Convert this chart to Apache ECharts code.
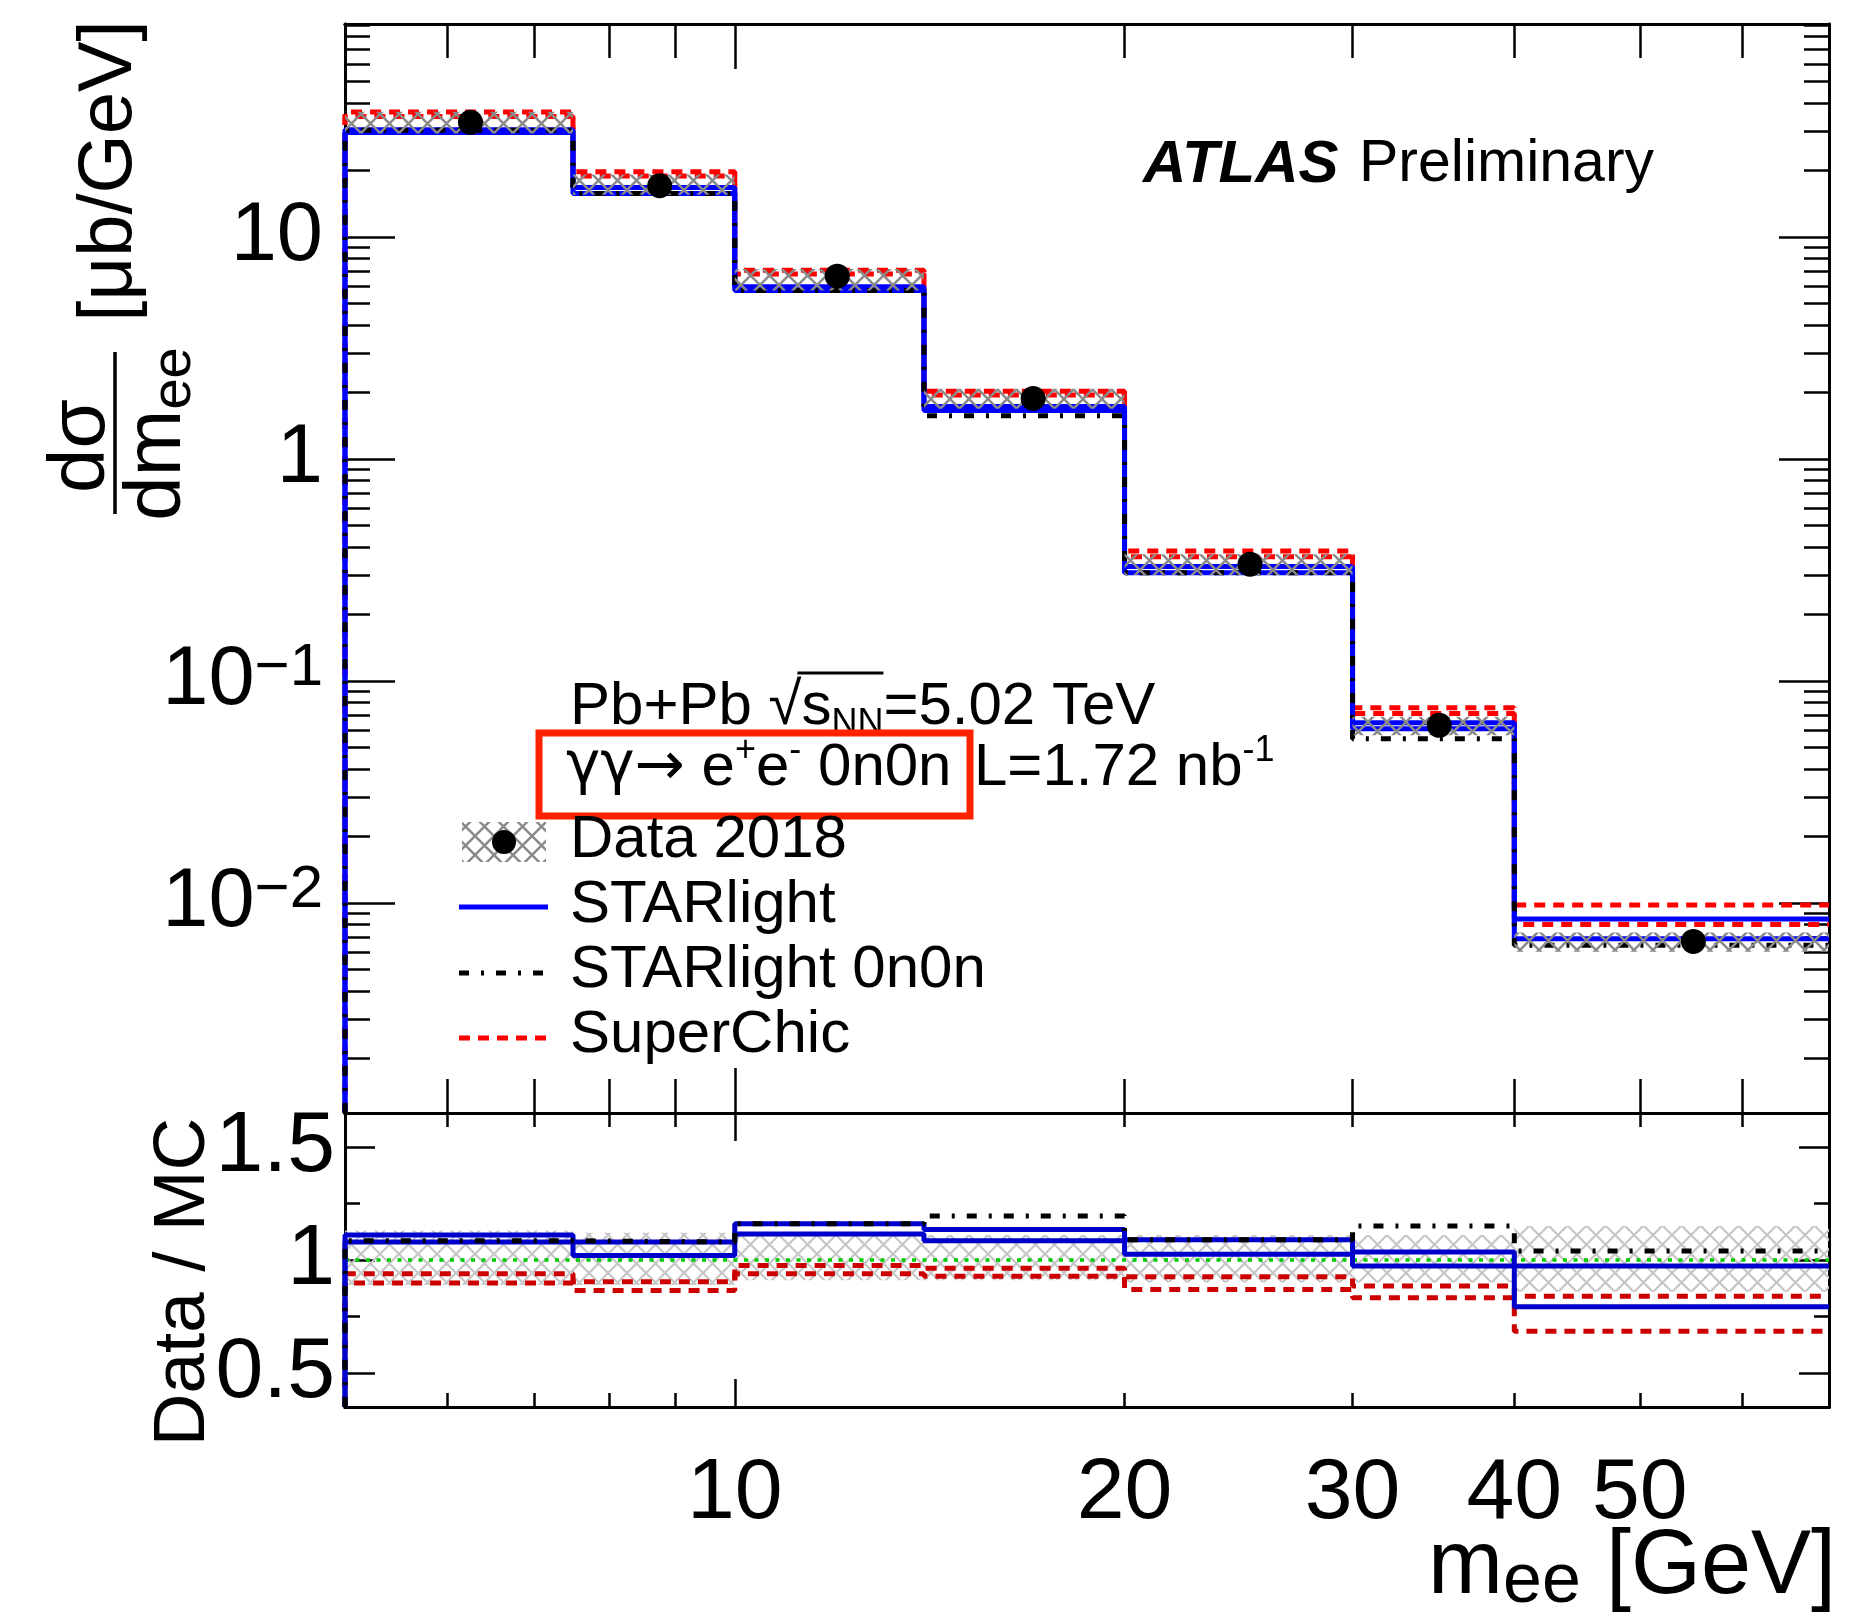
<!DOCTYPE html>
<html>
<head>
<meta charset="utf-8">
<script src="https://cdn.jsdelivr.net/npm/echarts@6/dist/echarts.min.js"></script>
<style>
  html, body { margin: 0; padding: 0; background: #fff; }
  #chart { width: 1850px; height: 1620px; }
</style>
</head>
<body>
<div id="chart"></div>
<script>
// Dielectron invariant-mass bins [GeV]
const binEdges = [5, 7.5, 10, 14, 20, 30, 40, 70];
const binCenters = [6.25, 8.75, 12, 17, 25, 35, 55];

// Measured dσ/dm_ee [μb/GeV] with its total uncertainty band
const dataValues   = [32.8, 17.0, 6.65, 1.87, 0.335, 0.0630, 0.00670];
const dataBandLow  = [29.2, 15.5, 5.74, 1.68, 0.300, 0.0569, 0.00602];
const dataBandHigh = [36.6, 19.1, 7.17, 2.07, 0.372, 0.0689, 0.00735];

// Predictions (upper and lower variations)
const starlightA    = [29.5, 15.7, 5.73, 1.65, 0.307, 0.0609, 0.00689];
const starlightB    = [30.4, 16.7, 5.96, 1.72, 0.327, 0.0647, 0.00845];
const starlight0n0n = [30.2, 15.7, 5.73, 1.565, 0.307, 0.0548, 0.00644];
const superchicA    = [34.9, 18.8, 6.81, 1.94, 0.362, 0.0712, 0.00798];
const superchicB    = [36.5, 19.65, 7.08, 2.015, 0.385, 0.0756, 0.00978];

// Data / MC
const ratioBandLow       = [0.89, 0.89, 0.91, 0.91, 0.90, 0.90, 0.86];
const ratioBandHigh      = [1.13, 1.12, 1.11, 1.11, 1.11, 1.11, 1.15];
const ratioStarlightA    = [1.11, 1.08, 1.16, 1.135, 1.09, 1.035, 0.973];
const ratioStarlightB    = [1.08, 1.02, 1.115, 1.085, 1.025, 0.973, 0.793];
const ratioStarlight0n0n = [1.085, 1.08, 1.16, 1.195, 1.09, 1.15, 1.04];
const ratioSuperchicA    = [0.939, 0.904, 0.976, 0.963, 0.926, 0.885, 0.840];
const ratioSuperchicB    = [0.898, 0.865, 0.939, 0.928, 0.870, 0.833, 0.685];
const ratioUnity = 1;

// Axis ranges and ticks
const xsecMin = 0.00113, xsecMax = 91;
const ratioMin = 0.35, ratioMax = 1.65;
const xMajorTicks = [10];
const xMinorTicks = [6, 7, 8, 9, 20, 30, 40, 50, 60];
const xTickLabels = [10, 20, 30, 40, 50];
const yMajorTicks = [0.01, 0.1, 1, 10];
const yMinorTicks = [0.002, 0.003, 0.004, 0.005, 0.006, 0.007, 0.008, 0.009,
                     0.02, 0.03, 0.04, 0.05, 0.06, 0.07, 0.08, 0.09,
                     0.2, 0.3, 0.4, 0.5, 0.6, 0.7, 0.8, 0.9,
                     2, 3, 4, 5, 6, 7, 8, 9,
                     20, 30, 40, 50, 60, 70, 80, 90];
const yTickLabels = [0.01, 0.1, 1, 10];
const ratioMajorTicks = [0.5, 1, 1.5];
const ratioMinorTicks = [0.75, 1.25];

const FONT = '"Liberation Sans", Arial, Helvetica, sans-serif';
const BLUE = '#0000ff', RED = '#ff0000', BLUE_R = '#0000cc', RED_R = '#cc0000';
const DASH = [11, 8];
const DASHDOT = [10, 12, 3, 12];
const LW = 5;

function hatchTile(color, size, lw) {
  const c = document.createElement('canvas');
  c.width = c.height = size;
  const g = c.getContext('2d');
  g.strokeStyle = color;
  g.lineWidth = lw;
  g.beginPath();
  g.moveTo(0, 0); g.lineTo(size, size);
  g.moveTo(size, 0); g.lineTo(0, size);
  g.stroke();
  return c;
}
const hatchDark = hatchTile('#8a8a8a', 19, 2.5);
const hatchLight = hatchTile('#c6c6c6', 19, 2.2);

// histogram outline: rise from the floor at the first edge, then step across the bins
function stepPoints(values, floor) {
  const pts = [[binEdges[0], floor]];
  values.forEach((v, i) => { pts.push([binEdges[i], v]); pts.push([binEdges[i + 1], v]); });
  return pts;
}
function histLine(name, xi, yi, values, floor, color, dash, z) {
  return {
    name, type: 'line', xAxisIndex: xi, yAxisIndex: yi, data: stepPoints(values, floor),
    symbol: 'none', showSymbol: false, silent: true, z,
    lineStyle: { color, width: LW, type: dash || 'solid', cap: 'butt', opacity: 1 }
  };
}
function band(xi, yi, lo, hi, tile, z) {
  return {
    type: 'custom', xAxisIndex: xi, yAxisIndex: yi, z, silent: true,
    data: lo.map((l, i) => [binEdges[i], binEdges[i + 1], l, hi[i]]),
    encode: { x: [0, 1], y: [2, 3] },
    renderItem: (params, api) => {
      const a = api.coord([api.value(0), api.value(3)]);
      const b = api.coord([api.value(1), api.value(2)]);
      return {
        type: 'rect',
        shape: { x: a[0], y: a[1], width: b[0] - a[0], height: b[1] - a[1] },
        style: { fill: { image: tile, repeat: 'repeat' } }
      };
    }
  };
}

function massAxis(gridIndex, position, ticks, len, labels) {
  return {
    type: 'log', logBase: 10, gridIndex, position,
    min: binEdges[0], max: binEdges[binEdges.length - 1],
    axisLine: { show: true, onZero: false, lineStyle: { color: '#000', width: 3 } },
    axisTick: { show: true, inside: true, length: len, customValues: ticks, lineStyle: { color: '#000', width: 2.5 } },
    axisLabel: labels ? {
      show: true, customValues: labels, margin: 44, color: '#000',
      fontFamily: FONT, fontSize: 86, formatter: v => String(Math.round(v))
    } : { show: false },
    splitLine: { show: false }, minorTick: { show: false }, axisPointer: { show: false }
  };
}
function powerLabel(v) {
  if (v >= 1) return '{b|' + String(Math.round(v)) + '}';
  return '{b|10}{s|\u2212' + String(-Math.round(Math.log10(v))) + '}';
}
function xsecAxis(position, ticks, len, labels) {
  return {
    type: 'log', logBase: 10, gridIndex: 0, position, min: xsecMin, max: xsecMax,
    axisLine: { show: true, onZero: false, lineStyle: { color: '#000', width: 3 } },
    axisTick: { show: true, inside: true, length: len, customValues: ticks, lineStyle: { color: '#000', width: 2.5 } },
    axisLabel: labels ? {
      show: true, customValues: labels, margin: 22, color: '#000', formatter: powerLabel,
      rich: {
        b: { fontFamily: FONT, fontSize: 83, lineHeight: 84, verticalAlign: 'bottom', color: '#000' },
        s: { fontFamily: FONT, fontSize: 60, lineHeight: 60, verticalAlign: 'top', padding: [0, 0, 42, 0], color: '#000' }
      }
    } : { show: false },
    splitLine: { show: false }, minorTick: { show: false }, axisPointer: { show: false }
  };
}
function ratioAxis(position, ticks, len, labels) {
  return {
    type: 'value', gridIndex: 1, position, min: ratioMin, max: ratioMax,
    axisLine: { show: true, onZero: false, lineStyle: { color: '#000', width: 3 } },
    axisTick: { show: true, inside: true, length: len, customValues: ticks, lineStyle: { color: '#000', width: 2.5 } },
    axisLabel: labels ? {
      show: true, customValues: labels, margin: 10, color: '#000',
      fontFamily: FONT, fontSize: 86, formatter: v => String(v)
    } : { show: false },
    splitLine: { show: false }, minorTick: { show: false }, axisPointer: { show: false }
  };
}

const chart = echarts.init(document.getElementById('chart'), null, { renderer: 'canvas' });

const mctx = document.createElement('canvas').getContext('2d');
function textWidth(str, px, family) {
  mctx.font = px + 'px ' + (family || FONT);
  return mctx.measureText(str).width;
}

// overline of the square root in the collision-energy label
const energyX = 570, energyY = 707;
const rootStart = energyX + textWidth('Pb+Pb ', 60);
const rootEnd = rootStart + textWidth('\u221A', 60);
const overlineEnd = rootEnd + textWidth('s', 60) + textWidth('NN', 36);

const graphics = [
  { type: 'text', x: 1143, y: 165, z: 20, style: { text: 'ATLAS', font: 'italic bold 60px ' + FONT, fill: '#000', align: 'left', verticalAlign: 'middle' } },
  { type: 'text', x: 1359, y: 165, z: 20, style: { text: 'Preliminary', font: '59px ' + FONT, fill: '#000', align: 'left', verticalAlign: 'middle' } },

  { type: 'text', x: energyX, y: energyY, z: 20, style: {
      text: '{n|Pb+Pb \u221A}{n|s}{sub|NN}{n|=5.02 TeV}', align: 'left', verticalAlign: 'middle',
      rich: {
        n: { font: '60px ' + FONT, lineHeight: 70, fill: '#000' },
        sub: { font: '36px ' + FONT, lineHeight: 34, verticalAlign: 'bottom', fill: '#000' }
      } } },
  { type: 'line', z: 20, shape: { x1: rootEnd - 4, y1: 673, x2: overlineEnd, y2: 673 }, style: { stroke: '#000', lineWidth: 3 } },

  { type: 'text', x: 566, y: 768, z: 20, style: {
      text: '{g|\u03B3\u03B3}{a|\u2192}{n| e}{sup|+}{n|e}{sup|-}{n| 0n0n}', align: 'left', verticalAlign: 'middle',
      rich: {
        n: { font: '60px ' + FONT, lineHeight: 70, fill: '#000' },
        g: { font: '58px "DejaVu Sans", ' + FONT, lineHeight: 70, fill: '#000' },
        a: { font: '60px "DejaVu Sans", ' + FONT, lineHeight: 70, fill: '#000' },
        sup: { font: '36px ' + FONT, lineHeight: 36, verticalAlign: 'top', fill: '#000' }
      } } },
  { type: 'text', x: 974, y: 768, z: 20, style: {
      text: '{n|L=1.72 nb}{sup|-1}', align: 'left', verticalAlign: 'middle',
      rich: {
        n: { font: '60px ' + FONT, lineHeight: 70, fill: '#000' },
        sup: { font: '36px ' + FONT, lineHeight: 36, verticalAlign: 'top', fill: '#000' }
      } } },
  { type: 'rect', z: 20, shape: { x: 539, y: 733, width: 431, height: 83 }, style: { fill: 'none', stroke: '#ff2200', lineWidth: 7 } },

  // legend
  { type: 'rect', z: 20, shape: { x: 462, y: 822, width: 84, height: 40 }, style: { fill: { image: hatchDark, repeat: 'repeat' } } },
  { type: 'circle', z: 21, shape: { cx: 504, cy: 842, r: 12 }, style: { fill: '#000' } },
  { type: 'text', x: 570, y: 840, z: 20, style: { text: 'Data 2018', font: '60px ' + FONT, fill: '#000', align: 'left', verticalAlign: 'middle' } },
  { type: 'line', z: 20, shape: { x1: 459, y1: 907, x2: 548, y2: 907 }, style: { stroke: BLUE, lineWidth: LW } },
  { type: 'text', x: 570, y: 905, z: 20, style: { text: 'STARlight', font: '60px ' + FONT, fill: '#000', align: 'left', verticalAlign: 'middle' } },
  { type: 'line', z: 20, shape: { x1: 459, y1: 973, x2: 548, y2: 973 }, style: { stroke: '#000', lineWidth: LW, lineDash: DASHDOT } },
  { type: 'text', x: 570, y: 970, z: 20, style: { text: 'STARlight 0n0n', font: '60px ' + FONT, fill: '#000', align: 'left', verticalAlign: 'middle' } },
  { type: 'line', z: 20, shape: { x1: 459, y1: 1038, x2: 548, y2: 1038 }, style: { stroke: RED, lineWidth: LW, lineDash: DASH } },
  { type: 'text', x: 570, y: 1035, z: 20, style: { text: 'SuperChic', font: '60px ' + FONT, fill: '#000', align: 'left', verticalAlign: 'middle' } },

  // y title of the cross-section pad: dσ/dm_ee [μb/GeV]
  { type: 'text', x: 110, y: 171, rotation: Math.PI / 2, z: 20, style: { text: '[\u03BCb/GeV]', font: '76px ' + FONT, fill: '#000', align: 'center', verticalAlign: 'middle' } },
  { type: 'text', x: 82, y: 446, rotation: Math.PI / 2, z: 20, style: { text: 'd\u03C3', font: '80px ' + FONT, fill: '#000', align: 'center', verticalAlign: 'middle' } },
  { type: 'line', z: 20, shape: { x1: 115, y1: 352, x2: 115, y2: 514 }, style: { stroke: '#000', lineWidth: 3.5 } },
  { type: 'text', x: 158, y: 434, rotation: Math.PI / 2, z: 20, style: {
      text: '{m|dm}{sub|ee}', align: 'center', verticalAlign: 'middle',
      rich: {
        m: { font: '80px ' + FONT, lineHeight: 90, fill: '#000' },
        sub: { font: '56px ' + FONT, lineHeight: 40, verticalAlign: 'bottom', fill: '#000' }
      } } },

  // y title of the ratio pad
  { type: 'text', x: 184, y: 1282, rotation: Math.PI / 2, z: 20, style: { text: 'Data / MC', font: '73px ' + FONT, fill: '#000', align: 'center', verticalAlign: 'middle' } },

  // x title
  { type: 'text', x: 1836, y: 1568, z: 20, style: {
      text: '{m|m}{sub|ee}{m| [GeV]}', align: 'right', verticalAlign: 'middle',
      rich: {
        m: { font: '90px ' + FONT, lineHeight: 100, fill: '#000' },
        sub: { font: '70px ' + FONT, lineHeight: 30, verticalAlign: 'bottom', fill: '#000' }
      } } }
];

const option = {
  animation: false,
  backgroundColor: '#fff',
  grid: [
    { left: 345, right: 21, top: 24, height: 1089, containLabel: false, outerBoundsMode: 'none' },
    { left: 345, right: 21, top: 1113, height: 294, containLabel: false, outerBoundsMode: 'none' }
  ],
  xAxis: [
    massAxis(0, 'bottom', xMajorTicks, 45, null),
    massAxis(0, 'bottom', xMinorTicks, 34, null),
    massAxis(0, 'top', xMajorTicks, 45, null),
    massAxis(0, 'top', xMinorTicks, 34, null),
    massAxis(1, 'bottom', xMajorTicks, 28, xTickLabels),
    massAxis(1, 'bottom', xMinorTicks, 14, null),
    massAxis(1, 'top', xMajorTicks, 28, null),
    massAxis(1, 'top', xMinorTicks, 14, null)
  ],
  yAxis: [
    xsecAxis('left', yMajorTicks, 50, yTickLabels),
    xsecAxis('left', yMinorTicks, 25, null),
    xsecAxis('right', yMajorTicks, 50, null),
    xsecAxis('right', yMinorTicks, 25, null),
    ratioAxis('left', ratioMajorTicks, 30, ratioMajorTicks),
    ratioAxis('left', ratioMinorTicks, 15, null),
    ratioAxis('right', ratioMajorTicks, 30, null),
    ratioAxis('right', ratioMinorTicks, 15, null)
  ],
  series: [
    histLine('SuperChic', 0, 0, superchicA, xsecMin, RED, DASH, 2),
    histLine('SuperChic', 0, 0, superchicB, xsecMin, RED, DASH, 2),
    histLine('STARlight', 0, 0, starlightA, xsecMin, BLUE, null, 3),
    histLine('STARlight', 0, 0, starlightB, xsecMin, BLUE, null, 3),
    histLine('STARlight 0n0n', 0, 0, starlight0n0n, xsecMin, '#000', DASHDOT, 4),
    band(0, 0, dataBandLow, dataBandHigh, hatchDark, 5),
    {
      name: 'Data 2018', type: 'scatter', xAxisIndex: 0, yAxisIndex: 0, z: 6, silent: true,
      data: binCenters.map((x, i) => [x, dataValues[i]]),
      symbol: 'circle', symbolSize: 25, itemStyle: { color: '#000', opacity: 1 }
    },

    band(4, 4, ratioBandLow, ratioBandHigh, hatchLight, 1),
    {
      type: 'line', xAxisIndex: 4, yAxisIndex: 4, z: 2, silent: true, symbol: 'none',
      data: [[binEdges[0], ratioUnity], [binEdges[binEdges.length - 1], ratioUnity]],
      lineStyle: { color: '#00cc00', width: 3.5, type: [4, 6.5], cap: 'butt' }
    },
    histLine('SuperChic', 4, 4, ratioSuperchicA, ratioMin, RED_R, DASH, 3),
    histLine('SuperChic', 4, 4, ratioSuperchicB, ratioMin, RED_R, DASH, 3),
    histLine('STARlight', 4, 4, ratioStarlightA, ratioMin, BLUE_R, null, 4),
    histLine('STARlight', 4, 4, ratioStarlightB, ratioMin, BLUE_R, null, 4),
    histLine('STARlight 0n0n', 4, 4, ratioStarlight0n0n, ratioMin, '#000', DASHDOT, 5)
  ],
  graphic: graphics
};

chart.setOption(option);
</script>
</body>
</html>
